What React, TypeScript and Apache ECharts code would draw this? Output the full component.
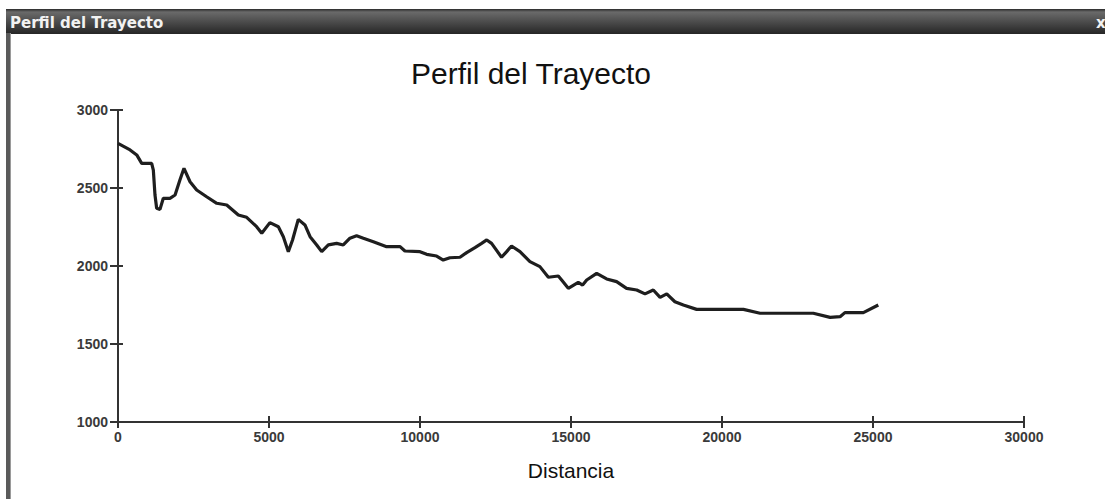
import React, { useEffect, useRef } from "react";
import * as echarts from "echarts";

const distances = [
  0, 400, 620, 785, 1115, 1170, 1225, 1280, 1390, 1500, 1720, 1890, 2050, 2185,
  2385, 2605, 2935, 3270, 3600, 3985, 4260, 4590, 4760, 5030, 5310, 5475, 5640,
  5780, 5970, 6190, 6360, 6580, 6745, 6965, 7240, 7460, 7680, 7900, 8125, 8455,
  8895, 9340, 9500, 10000, 10220, 10550, 10770, 10990, 11325, 11545, 11820,
  12040, 12210, 12370, 12700, 12870, 13030, 13310, 13640, 13970, 14250, 14580,
  14690, 14910, 15240, 15385, 15520, 15850, 16180, 16510, 16840, 17175, 17450,
  17725, 17950, 18170, 18440, 18720, 19160, 20710, 21260, 23025, 23580, 23910,
  24070, 24680, 25175,
];
const elevations = [
  2786, 2744, 2712, 2658, 2658, 2615, 2455, 2370, 2363, 2434, 2434, 2455, 2551,
  2626, 2540, 2487, 2444, 2402, 2391, 2327, 2312, 2252, 2210, 2278, 2252, 2188,
  2092, 2167, 2299, 2263, 2188, 2135, 2092, 2135, 2145, 2135, 2178, 2194, 2178,
  2156, 2124, 2124, 2096, 2092, 2075, 2064, 2038, 2053, 2056, 2086, 2118, 2145,
  2167, 2145, 2056, 2092, 2128, 2092, 2028, 1996, 1928, 1936, 1910, 1857, 1895,
  1878, 1910, 1953, 1917, 1900, 1857, 1846, 1821, 1846, 1799, 1821, 1771, 1750,
  1722, 1722, 1697, 1697, 1671, 1675, 1701, 1701, 1750,
];

const chartTitle = "Perfil del Trayecto";
const windowTitle = "Perfil del Trayecto";
const xAxisName = "Distancia";

export default function App() {
  const ref = useRef<HTMLDivElement>(null);
  useEffect(() => {
    if (!ref.current) return;
    const chart = echarts.init(ref.current, null, { renderer: "svg" });
    const labelStyle = {
      color: "#3a3a3a",
      fontSize: 14,
      fontWeight: "bold" as const,
      fontFamily: "Liberation Sans, Arial, sans-serif",
      formatter: (v: number) => String(v),
    };
    chart.setOption({
      animation: false,
      backgroundColor: "#fff",
      title: {
        text: chartTitle,
        left: 526,
        top: 53,
        textAlign: "center",
        textStyle: {
          fontSize: 30,
          fontWeight: "normal",
          color: "#111",
          fontFamily: "Liberation Sans, Arial, sans-serif",
        },
      },
      graphic: [
        {
          type: "rect",
          shape: { x: 6, y: 9, width: 1099, height: 25 },
          style: {
            fill: new echarts.graphic.LinearGradient(0, 0, 0, 1, [
              { offset: 0, color: "#2a2a2a" },
              { offset: 0.12, color: "#6a6a6a" },
              { offset: 1, color: "#262626" },
            ]),
          },
        },
        {
          type: "text",
          x: 10,
          y: 15,
          style: {
            text: windowTitle,
            fill: "#f2f2f2",
            font: "bold 15px 'DejaVu Sans', Verdana, sans-serif",
          },
        },
        {
          type: "text",
          x: 1096,
          y: 15,
          style: {
            text: "x",
            fill: "#f2f2f2",
            font: "bold 15px 'DejaVu Sans', Verdana, sans-serif",
          },
        },
        {
          type: "rect",
          shape: { x: 6, y: 33, width: 5, height: 466 },
          style: { fill: "#5a5a5a" },
        },
        {
          type: "rect",
          shape: { x: 10, y: 33, width: 1, height: 466 },
          style: { fill: "#9a9a9a" },
        },
      ],
      grid: { left: 118, right: 81, top: 110, bottom: 77 },
      xAxis: [
        {
          type: "value",
          min: 0,
          max: 30000,
          interval: 5000,
          name: xAxisName,
          nameLocation: "middle",
          nameGap: 38,
          nameTextStyle: {
            fontSize: 21,
            color: "#111",
            fontFamily: "Liberation Sans, Arial, sans-serif",
          },
          axisLine: { lineStyle: { color: "#333", width: 2 } },
          axisTick: { length: 6, lineStyle: { color: "#333", width: 2 } },
          axisLabel: { ...labelStyle, margin: 8 },
          splitLine: { show: false },
        },
        {
          type: "value",
          min: 0,
          max: 30000,
          interval: 5000,
          position: "bottom",
          axisLine: { show: false },
          axisTick: { inside: true, length: 6, lineStyle: { color: "#333", width: 2 } },
          axisLabel: { show: false },
          splitLine: { show: false },
        },
      ],
      yAxis: [
        {
          type: "value",
          min: 1000,
          max: 3000,
          interval: 500,
          axisLine: { show: true, lineStyle: { color: "#333", width: 2 } },
          axisTick: { show: true, length: 8, lineStyle: { color: "#333", width: 2 } },
          axisLabel: { ...labelStyle, margin: 10 },
          splitLine: { show: false },
        },
        {
          type: "value",
          min: 1000,
          max: 3000,
          interval: 500,
          position: "left",
          axisLine: { show: false },
          axisTick: { show: true, inside: true, length: 5, lineStyle: { color: "#333", width: 2 } },
          axisLabel: { show: false },
          splitLine: { show: false },
        },
      ],
      series: [
        {
          type: "line",
          data: distances.map((d, i) => [d, elevations[i]]),
          showSymbol: false,
          lineStyle: { color: "#1e1e1e", width: 3.2 },
          smooth: false,
        },
      ],
    });
    return () => chart.dispose();
  }, []);
  return (
    <div
      ref={ref}
      style={{ position: "absolute", left: 0, top: 0, width: 1105, height: 499 }}
    />
  );
}
